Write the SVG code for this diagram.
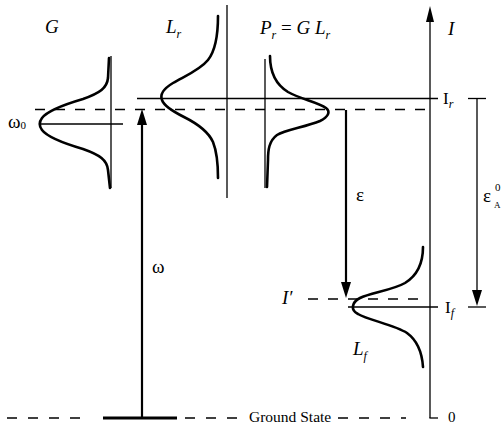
<svg xmlns="http://www.w3.org/2000/svg" width="501" height="429" viewBox="0 0 501 429">
<style>
text{font-family:"Liberation Serif","Times New Roman",serif;fill:#000}
.it{font-style:italic}
.thin{stroke:#000;stroke-width:1.3;fill:none}
.curve{stroke:#000;stroke-width:2.6;fill:none;stroke-linecap:round;stroke-linejoin:round}
.dash{stroke:#000;stroke-width:1.3;fill:none;stroke-dasharray:10 10}
.gdash{stroke:#000;stroke-width:1.3;fill:none;stroke-dasharray:10 11}
.thick{stroke:#000;stroke-width:2.2;fill:none}
</style>
<defs>
<marker id="head" markerUnits="userSpaceOnUse" markerWidth="16" markerHeight="10" refX="10" refY="5" orient="auto">
<path d="M0,0 L16,5 L0,10 z" fill="#000"/>
</marker>
<marker id="axhead" markerUnits="userSpaceOnUse" markerWidth="16" markerHeight="8" refX="10" refY="4" orient="auto">
<path d="M0,0 L16,4 L0,8 z" fill="#000"/>
</marker>
</defs>

<g id="levels">
<line class="thin" x1="137" y1="98.5" x2="438" y2="98.5"/>
<line class="dash" x1="35" y1="109.5" x2="428" y2="109.5"/>
<line class="dash" x1="308" y1="299" x2="426" y2="299"/>
<line class="thin" x1="348" y1="307" x2="438" y2="307"/>
<line class="gdash" x1="7" y1="418" x2="81" y2="418"/>
<line x1="103" y1="418" x2="177" y2="418" stroke="#000" stroke-width="3"/>
<line class="gdash" x1="185" y1="418" x2="237" y2="418"/>
<line class="gdash" x1="338" y1="418" x2="406" y2="418"/>
<text x="249" y="422" font-size="15.5">Ground State</text>
</g>

<g id="axis">
<line class="thin" x1="430" y1="418" x2="430" y2="12" marker-end="url(#axhead)"/>
<line class="thin" x1="429.4" y1="418" x2="438" y2="418"/>
<text class="it" x="448" y="35" font-size="19">I</text>
<text x="443" y="104" font-size="17">I<tspan class="it" font-size="12" dy="4">r</tspan></text>
<text x="445" y="313" font-size="17">I<tspan class="it" font-size="12" dy="4">f</tspan></text>
<text x="448" y="422" font-size="15">0</text>
</g>

<g id="G">
<line class="thin" x1="111" y1="56" x2="111" y2="188"/>
<line class="thin" x1="39" y1="124" x2="123" y2="124"/>
<path class="curve" d="M109,58 L108,78 C107,88 100,93 83,99 C66,104 48,110 42,118 C39,122 39,126 42,130 C48,138 66,144 83,149 C100,155 107,160 108,170 L110,188"/>
<text class="it" x="45" y="33" font-size="19">G</text>
<text x="8" y="128" font-size="19">ω<tspan font-size="11" dy="1">0</tspan></text>
</g>

<g id="Lr">
<line class="thin" x1="227" y1="5" x2="227" y2="198"/>
<path class="curve" d="M218,16 C218,35 216,50 208,60 C200,70 185,76 173,83 C163,89 160,95 162,100 C164,106 172,111 184,117 C198,124 208,131 213,142 C217,152 218,165 218,178"/>
<text class="it" x="166" y="33" font-size="19">L<tspan font-size="12" dy="5">r</tspan></text>
</g>

<g id="Pr">
<line class="thin" x1="265" y1="59" x2="265" y2="188"/>
<path class="curve" d="M270,56 C270,70 275,84 288,92 C300,99 318,102 326,108 C331,112 328,117 320,121 C305,127 285,130 277,135 C269,141 268,150 268,160 L267,187"/>
<text class="it" x="260" y="34" font-size="19">P<tspan font-size="12" dy="5">r</tspan><tspan dy="-5" font-style="normal"> = </tspan>G<tspan> </tspan>L<tspan font-size="12" dy="5">r</tspan></text>
</g>

<g id="Lf">
<path class="curve" d="M423,247 C423,262 418,275 405,283 C393,290 370,293 360,298 C352,302 350,310 358,314 C368,320 395,325 407,333 C418,341 422,352 423,367"/>
<text class="it" x="353" y="355" font-size="19">L<tspan font-size="12" dy="5">f</tspan></text>
<text class="it" x="282" y="304" font-size="19">I′</text>
</g>

<g id="connectors">
<line class="thick" x1="142" y1="418" x2="142" y2="115" marker-end="url(#head)"/>
<line class="thick" x1="346" y1="110" x2="346" y2="292" marker-end="url(#head)"/>
<line class="thin" x1="477" y1="98.5" x2="477" y2="300" marker-end="url(#head)"/>
<line class="thin" x1="468" y1="98.5" x2="486" y2="98.5"/>
<line class="thin" x1="468" y1="307" x2="486" y2="307"/>
<text x="152" y="273" font-size="19">ω</text>
<text x="356" y="201" font-size="19">ε</text>
<text x="483" y="202" font-size="19">ε</text>
<text x="495" y="191" font-size="11">0</text>
<text x="494" y="208" font-size="9">A</text>
</g>
</svg>
